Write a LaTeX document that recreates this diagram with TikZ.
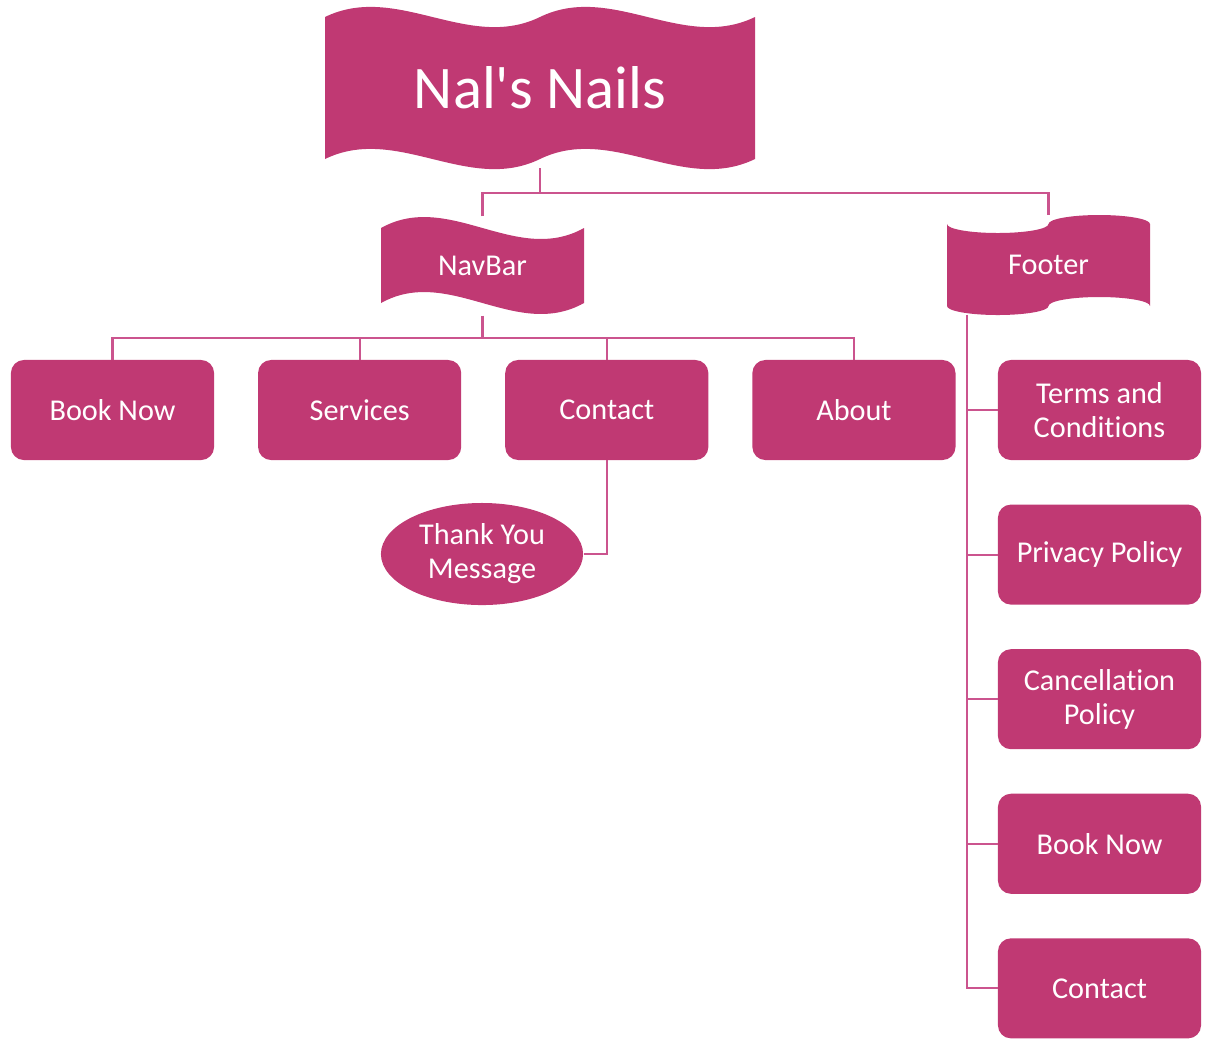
\documentclass[tikz,border=0pt]{standalone}
\usepackage{fontspec}
\setmainfont{Carlito}[Ligatures={TeXOff,NoCommon}]
\usetikzlibrary{positioning,shapes.geometric}
\definecolor{nailpink}{RGB}{192,57,115}
\definecolor{linkpink}{RGB}{203,84,142}

\begin{document}
\begin{tikzpicture}[x=0.01cm, y=0.01cm, node distance=0.445cm and 0.44cm,
    page/.style={rectangle, rounded corners=3.7pt, fill=nailpink, text=white,
      minimum width=2.03cm, minimum height=1cm, align=center, inner sep=2pt,
      outer sep=0pt, font=\fontsize{8.6}{9.7}\selectfont},
    banner/.style={rectangle, text=white, minimum width=2.03cm,
      minimum height=0.99cm, outer sep=0pt, font=\fontsize{8.6}{9.7}\selectfont},
    link/.style={draw=linkpink, line width=0.6pt}]
    \useasboundingbox (0,0) rectangle (1209,-1038);

    % Title banner
    \fill[nailpink] (325,-17) .. controls (397,18) and (468,-52) .. (540,-17)
        .. controls (612,18) and (683,-52) .. (755,-17) -- (755,-159)
        .. controls (683,-194) and (612,-124) .. (540,-159)
        .. controls (468,-194) and (397,-124) .. (325,-159) -- cycle;
    \node[text=white, minimum width=4.3cm, minimum height=1.61cm, outer sep=0pt,
        font=\fontsize{17.2}{19}\selectfont] (title) at (540,-87.5) {Nal's Nails};

    % NavBar banner
    \fill[nailpink] (381,-228) .. controls (449,-190) and (516,-266) .. (584,-228)
        -- (584,-303) .. controls (516,-341) and (449,-265) .. (381,-303) -- cycle;
    \node[banner] (navbar) at (482.5,-266) {NavBar};

    % Footer banner
    \fill[nailpink] (947,-224) arc (180:360:50.75 and 9) arc (180:0:50.75 and 9)
        -- (1150,-306) arc (0:180:50.75 and 9) arc (360:180:50.75 and 9) -- cycle;
    \node[banner] (footer) at (1048.5,-265) {Footer};

    % Nav pages
    \node[page] (booknow) at (112.5,-410) {Book Now};
    \node[page, right=of booknow] (services) {Services};
    \node[page, right=of services] (contact) {Contact};
    \node[page, right=of contact] (about) {About};
    \node[ellipse, fill=nailpink, text=white, minimum width=2.02cm,
        minimum height=1.02cm, inner sep=0pt, align=center,
        font=\fontsize{8.6}{9.7}\selectfont] (thanks) at (482,-554) {Thank You\\Message};

    % Footer pages
    \node[page] (terms) at (1099.5,-410) {Terms and\\Conditions};
    \node[page, below=of terms] (privacy) {Privacy Policy};
    \node[page, below=of privacy] (cancel) {Cancellation\\Policy};
    \node[page, below=of cancel] (fbook) {Book Now};
    \node[page, below=of fbook] (fcontact) {Contact};

    % Connectors
    \coordinate (split) at (540,-193);
    \coordinate (navsplit) at (482.5,-338);
    \coordinate (fstem) at ([xshift=0.2cm]footer.south west);
    \draw[link] (title.south) -- (split);
    \draw[link] (navbar.north) -- (navbar.north |- split)
        -- (footer.north |- split) -- (footer.north);
    \draw[link] (navbar.south) -- (navsplit);
    \draw[link] (booknow.north) -- (booknow.north |- navsplit)
        -- (about.north |- navsplit) -- (about.north);
    \foreach \p in {services,contact}
        \draw[link] (\p.north) -- (\p.north |- navsplit);
    \draw[link] (contact.south) |- (thanks.east);
    \draw[link] (fstem) |- (fcontact.west);
    \foreach \p in {terms,privacy,cancel,fbook}
        \draw[link] (\p.west) -- (\p.west -| fstem);
\end{tikzpicture}
\end{document}
